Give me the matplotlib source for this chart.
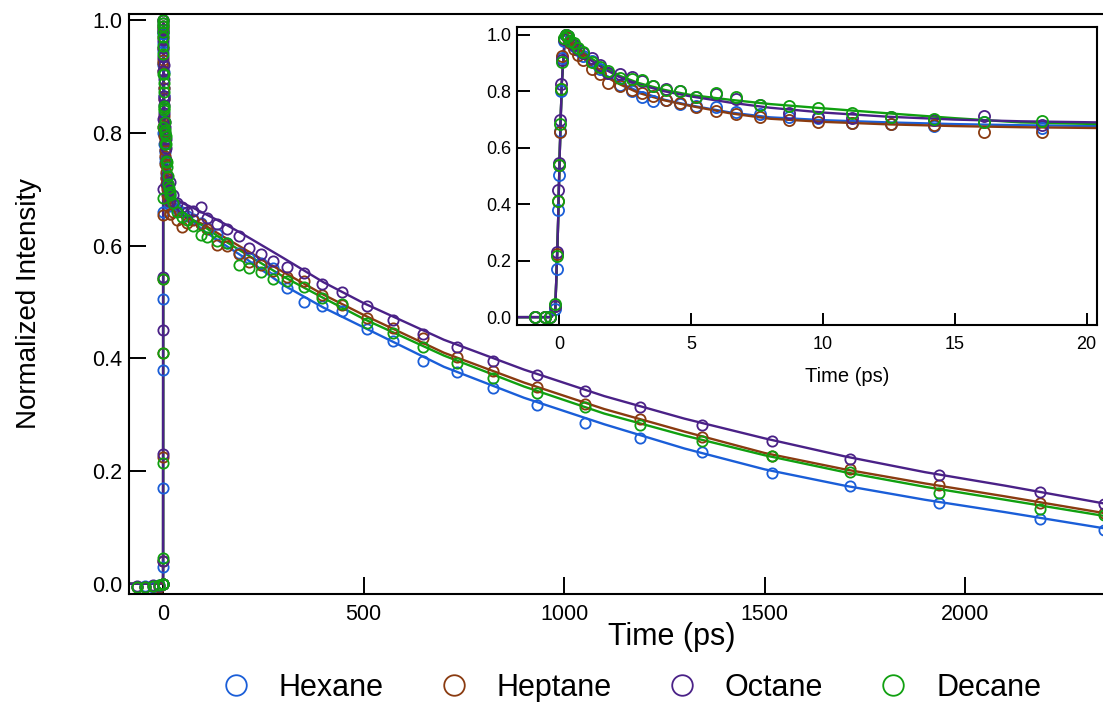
import matplotlib.pyplot as plt

plt.rcParams['font.family'] = ['Liberation Sans', 'DejaVu Sans']

# measured points (ps): pre-zero, rise, fast decay, slow decay
t_pts = [-65, -45, -25, -10, -0.9, -0.55, -0.35, -0.15, -0.08, -0.04, -0.01, 0.02, 0.06,
         0.1, 0.18, 0.26, 0.33, 0.42, 0.55, 0.7, 0.9, 1.25, 1.55, 1.86, 2.3, 2.76, 3.15,
         3.56, 4.05, 4.58, 5.2, 5.95, 6.7, 7.6, 8.7, 9.8, 11.1, 12.6, 14.2, 16.1, 18.3,
         25, 35, 47, 60, 75, 95, 110, 135, 160, 190, 215, 245, 275, 310, 352, 397, 447,
         509, 574, 649, 733, 823, 933, 1053, 1190, 1345, 1519, 1714, 1934, 2186, 2345]

hexane_pts = [-0.005, -0.004, -0.006, -0.003,
              0.0, 0.0, 0.0, 0.03, 0.17, 0.38, 0.505, 0.66, 0.80, 0.92, 0.98, 1.0, 0.99,
              0.975, 0.96, 0.945, 0.925, 0.908, 0.88, 0.865, 0.823, 0.80, 0.78, 0.766, 0.77,
              0.755, 0.748, 0.745, 0.727, 0.72, 0.709, 0.706, 0.688, 0.684, 0.677, 0.69, 0.67,
              0.672, 0.665, 0.66, 0.652, 0.648, 0.64, 0.632, 0.62, 0.605, 0.587,
              0.578, 0.57, 0.56, 0.525, 0.50, 0.493, 0.484, 0.452, 0.431, 0.395,
              0.376, 0.348, 0.317, 0.285, 0.259, 0.234, 0.197, 0.174, 0.144, 0.115, 0.096]
heptane_pts = [-0.006, -0.005, -0.004, -0.005,
               0.0, 0.0, 0.0, 0.04, 0.225, 0.41, 0.54, 0.655, 0.81, 0.925, 0.985, 1.0, 0.99,
               0.97, 0.95, 0.93, 0.91, 0.88, 0.86, 0.83, 0.818, 0.805, 0.795, 0.785, 0.77,
               0.759, 0.745, 0.73, 0.72, 0.71, 0.70, 0.69, 0.688, 0.685, 0.68, 0.656, 0.656,
               0.66, 0.645, 0.633, 0.64, 0.645, 0.638, 0.63, 0.601, 0.60, 0.585,
               0.571, 0.565, 0.555, 0.545, 0.537, 0.512, 0.495, 0.472, 0.454, 0.436,
               0.402, 0.378, 0.349, 0.319, 0.292, 0.261, 0.227, 0.204, 0.176, 0.144, 0.126]
octane_pts = [-0.004, -0.005, -0.003, -0.004,
              0.0, 0.0, 0.0, 0.04, 0.23, 0.45, 0.545, 0.70, 0.825, 0.91, 0.985, 1.0, 0.995,
              0.98, 0.965, 0.95, 0.935, 0.92, 0.895, 0.865, 0.86, 0.85, 0.835, 0.82, 0.81,
              0.80, 0.78, 0.79, 0.773, 0.752, 0.723, 0.71, 0.705, 0.709, 0.699, 0.713, 0.68,
              0.69, 0.675, 0.668, 0.66, 0.662, 0.668, 0.649, 0.638, 0.63, 0.617,
              0.596, 0.585, 0.573, 0.562, 0.551, 0.532, 0.518, 0.493, 0.468, 0.443,
              0.420, 0.395, 0.371, 0.342, 0.314, 0.282, 0.254, 0.222, 0.193, 0.163, 0.142]
decane_pts = [-0.005, -0.006, -0.004, -0.003,
              0.0, 0.0, 0.0, 0.045, 0.215, 0.41, 0.54, 0.685, 0.81, 0.905, 0.99, 1.0, 0.995,
              0.98, 0.97, 0.955, 0.94, 0.905, 0.888, 0.872, 0.848, 0.845, 0.84, 0.82, 0.805,
              0.80, 0.78, 0.795, 0.78, 0.75, 0.748, 0.74, 0.723, 0.71, 0.702, 0.69, 0.695,
              0.675, 0.66, 0.651, 0.645, 0.635, 0.619, 0.615, 0.608, 0.605, 0.566,
              0.56, 0.553, 0.541, 0.537, 0.527, 0.507, 0.497, 0.463, 0.445, 0.420,
              0.392, 0.365, 0.339, 0.314, 0.282, 0.254, 0.227, 0.199, 0.161, 0.133, 0.122]

# fitted curves
t_fit = [-85, -0.3, -0.15, -0.05, 0.0, 0.05, 0.1, 0.2,
         0.3, 0.5, 0.8, 1.2, 1.7, 2.3, 3.0, 4.0, 5.0, 6.5, 8.0, 10.0, 12.5, 15.0, 17.5, 20.5,
         30, 50, 75, 100, 150, 200, 300, 400, 500, 700, 900, 1100, 1300, 1500, 1700, 1900,
         2100, 2350]
hexane_fit = [0, 0, 0.02, 0.3, 0.5, 0.68, 0.83, 0.97,
              0.99, 0.965, 0.93, 0.895, 0.86, 0.83, 0.8, 0.77, 0.75, 0.725, 0.708, 0.698,
              0.69, 0.684, 0.68, 0.677,
              0.668, 0.655, 0.643, 0.627, 0.603, 0.58, 0.53, 0.49, 0.455, 0.385, 0.33,
              0.283, 0.24, 0.203, 0.174, 0.149, 0.127, 0.098]
heptane_fit = [0, 0, 0.02, 0.3, 0.5, 0.68, 0.83, 0.97,
               0.99, 0.965, 0.93, 0.89, 0.855, 0.825, 0.795, 0.768, 0.748, 0.722, 0.703,
               0.692, 0.683, 0.677, 0.673, 0.67,
               0.663, 0.652, 0.645, 0.638, 0.616, 0.595, 0.553, 0.513, 0.477, 0.41, 0.357,
               0.31, 0.27, 0.232, 0.203, 0.178, 0.155, 0.125]
octane_fit = [0, 0, 0.02, 0.3, 0.5, 0.68, 0.83, 0.97,
              0.995, 0.975, 0.945, 0.91, 0.88, 0.85, 0.825, 0.8, 0.782, 0.76, 0.742, 0.725,
              0.71, 0.7, 0.694, 0.69,
              0.683, 0.675, 0.667, 0.658, 0.64, 0.62, 0.578, 0.535, 0.498, 0.433, 0.38,
              0.333, 0.293, 0.258, 0.226, 0.198, 0.174, 0.142]
decane_fit = [0, 0, 0.02, 0.3, 0.5, 0.68, 0.83, 0.97,
              0.995, 0.978, 0.95, 0.918, 0.888, 0.855, 0.83, 0.805, 0.787, 0.77, 0.755, 0.74,
              0.722, 0.705, 0.69, 0.684,
              0.675, 0.66, 0.645, 0.635, 0.61, 0.588, 0.545, 0.507, 0.47, 0.405, 0.35,
              0.302, 0.263, 0.228, 0.198, 0.172, 0.149, 0.12]

labels = ['Hexane', 'Heptane', 'Octane', 'Decane']
colors = ['#1a5ed8', '#8a3b10', '#4a2187', '#10a010']
points = [hexane_pts, heptane_pts, octane_pts, decane_pts]
fits = [hexane_fit, heptane_fit, octane_fit, decane_fit]


def draw(ax, ms, tick_len, fs):
    # lines first (octane drawn last so it sits on top), then open circles
    for i in [0, 1, 3, 2]:
        ax.plot(t_fit, fits[i], color=colors[i], lw=1.7)
    handles = []
    for i in range(4):
        h, = ax.plot(t_pts, points[i], linestyle='none', marker='o', ms=ms,
                     mfc='none', mec=colors[i], mew=1.3, label=labels[i])
        handles.append(h)
    ax.tick_params(direction='in', length=tick_len, width=1.4, labelsize=fs)
    for s in ax.spines.values():
        s.set_linewidth(1.5)
    return handles


fig = plt.figure(figsize=(11.03, 7.02), dpi=100)

ax = fig.add_axes([0.117, 0.154, 0.886, 0.826])
handles = draw(ax, 7.4, 12, 15.5)
ax.set_xlim(-85, 2352)
ax.set_ylim(-0.018, 1.011)
ax.set_xticks([0, 500, 1000, 1500, 2000])
ax.set_yticks([0.0, 0.2, 0.4, 0.6, 0.8, 1.0])
ax.set_yticklabels(['0.0', '0.2', '0.4', '0.6', '0.8', '1.0'])
ax.tick_params(axis='x', pad=7)
ax.tick_params(axis='y', pad=5)
ax.set_xlabel('Time (ps)', fontsize=22)
ax.xaxis.set_label_coords(0.555, -0.048)
ax.set_ylabel('Normalized Intensity', fontsize=20)
ax.yaxis.set_label_coords(-0.089, 0.5)

ins = fig.add_axes([0.4687, 0.537, 0.526, 0.4245])
draw(ins, 8, 9, 13)
ins.set_xlim(-1.6, 20.4)
ins.set_ylim(-0.028, 1.028)
ins.set_xticks([0, 5, 10, 15, 20])
ins.set_yticks([0.0, 0.2, 0.4, 0.6, 0.8, 1.0])
ins.set_yticklabels(['0.0', '0.2', '0.4', '0.6', '0.8', '1.0'])
ins.tick_params(axis='x', pad=8)
ins.tick_params(axis='y', pad=4)
ins.set_xlabel('Time (ps)', fontsize=14.5)
ins.xaxis.set_label_coords(0.569, -0.141)

fig.legend(handles=handles, loc='center', bbox_to_anchor=(0.572, 0.02), ncol=4,
           frameon=False, markerscale=2.0, fontsize=22, handletextpad=0.9,
           columnspacing=1.8, handlelength=1.0)

fig.savefig('out.png', dpi=100)
